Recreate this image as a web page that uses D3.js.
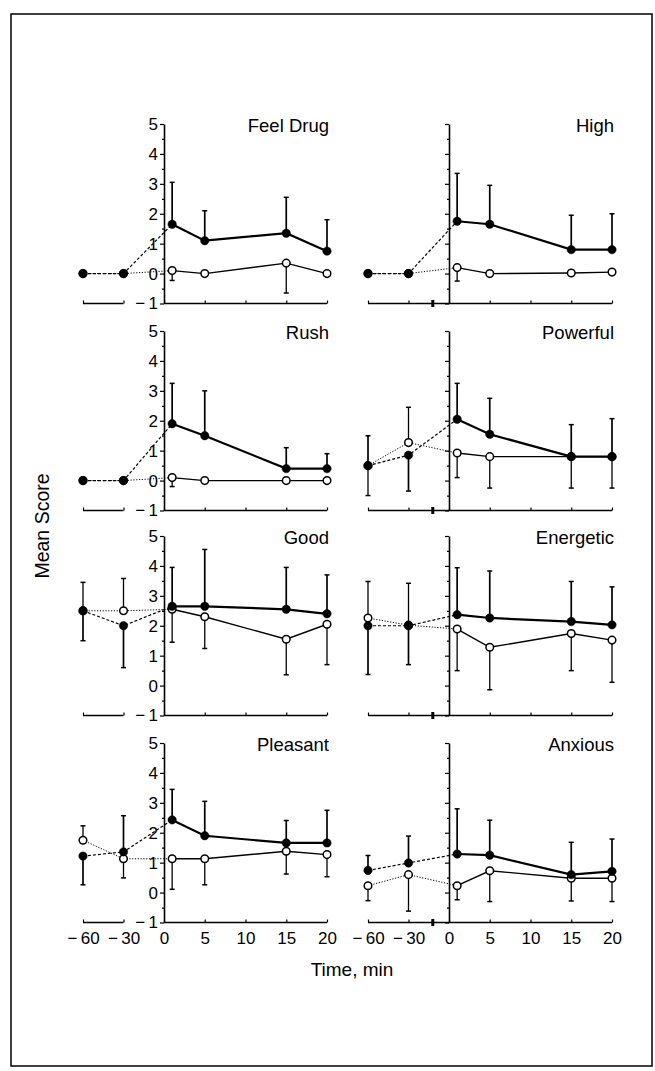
<!DOCTYPE html>
<html>
<head>
<meta charset="utf-8">
<script src="https://cdn.jsdelivr.net/npm/d3@7"></script>
<style>
  body { margin: 0; background: #fff; }
  svg { font-family: "Liberation Sans", Arial, sans-serif; }
  .domain { stroke: #000; stroke-width: 1.6; }
  .tick line { stroke: #000; stroke-width: 1.2; }
</style>
</head>
<body>
<div id="chart"></div>
<script>
// sampling times (min), first post-drug sample is ~1 min
const times = [-60, -30, 1, 5, 15, 20];
const xTicks = [-60, -30, 0, 5, 10, 15, 20];
const yTicks = [-1, 0, 1, 2, 3, 4, 5];
const yMinorTicks = [-0.5, 0.5, 1.5, 2.5, 3.5, 4.5];

const panelNames = ["Feel Drug", "High", "Rush", "Powerful", "Good", "Energetic", "Pleasant", "Anxious"];

// filled circles
const drugMeans = [
    [0, 0, 1.65, 1.1, 1.35, 0.75],
    [0, 0, 1.75, 1.65, 0.8, 0.8],
    [0, 0, 1.9, 1.5, 0.4, 0.4],
    [0.5, 0.85, 2.05, 1.55, 0.8, 0.8],
    [2.5, 2.0, 2.65, 2.65, 2.55, 2.4],
    [2.0, 2.0, 2.37, 2.26, 2.14, 2.03],
    [1.22, 1.36, 2.43, 1.9, 1.66, 1.66],
    [0.74, 0.99, 1.29, 1.25, 0.6, 0.71]
];
// SD bars, + drawn up, - drawn down
const drugErr = [
    [0, 0, 1.4, 1.0, 1.2, 1.05],
    [0, 0, 1.6, 1.3, 1.15, 1.2],
    [0, 0, 1.35, 1.5, 0.7, 0.5],
    [1.0, -1.2, 1.2, 1.2, 1.07, 1.27],
    [-1.0, -1.4, 1.3, 1.9, 1.4, 1.3],
    [-1.63, -1.3, 1.57, 1.57, 1.34, 1.27],
    [-0.96, 1.21, 1.02, 1.15, 0.75, 1.09],
    [0.5, 0.9, 1.51, 1.17, 1.08, 1.08]
];
// open circles
const placeboMeans = [
    [0, 0, 0.1, 0, 0.35, 0],
    [0, 0, 0.2, 0, 0.02, 0.05],
    [0, 0, 0.1, 0, 0, 0],
    [0.5, 1.27, 0.92, 0.8, 0.8, 0.8],
    [2.5, 2.5, 2.55, 2.3, 1.55, 2.05],
    [2.26, 2.02, 1.89, 1.28, 1.74, 1.52],
    [1.75, 1.13, 1.13, 1.13, 1.38, 1.27],
    [0.23, 0.6, 0.23, 0.73, 0.48, 0.48]
];
const placeboErr = [
    [0, 0, -0.33, 0, -1.0, 0],
    [0, 0, -0.45, 0, 0, 0],
    [0, 0, -0.3, 0, 0, 0],
    [-1.0, 1.18, -0.82, -1.05, -1.05, -1.05],
    [0.95, 1.08, -1.1, -1.06, -1.19, -1.35],
    [1.22, 1.4, -1.39, -1.42, -1.24, -1.41],
    [0.48, -0.64, -1.02, -0.87, -0.76, -0.74],
    [-0.5, -1.22, -0.47, -1.03, -0.76, -0.78]
];

const width = 655;
const height = 1071;
const colX0 = [164, 449];      // x of time 0 in each column
const rowTop = [124, 331, 536, 743];
const panelH = 179.5;

const svg = d3.select("#chart")
    .append("svg")
    .attr("width", width)
    .attr("height", height);

// frame
svg.append("rect")
    .attr("x", 11).attr("y", 14)
    .attr("width", 641).attr("height", 1052)
    .attr("fill", "none")
    .attr("stroke", "#000")
    .attr("stroke-width", 1.5);

panelNames.forEach((name, i) => {
    const col = i % 2;
    const row = Math.floor(i / 2);
    const x0 = colX0[col];

    const x = d3.scaleLinear()
        .domain([-60, -30, 0, 20])
        .range([x0 - 81, x0 - 40.5, x0, x0 + 163]);
    const y = d3.scaleLinear()
        .domain([-1, 5])
        .range([rowTop[row] + panelH, rowTop[row]]);

    const g = svg.append("g");

    // baseline at -1
    const yb = y(-1);
    if (col === 0) {
        g.append("line").attr("x1", x(-60)).attr("x2", x(-30))
            .attr("y1", yb).attr("y2", yb).attr("stroke", "#000").attr("stroke-width", 1.6);
        g.append("line").attr("x1", x(0)).attr("x2", x(20))
            .attr("y1", yb).attr("y2", yb).attr("stroke", "#000").attr("stroke-width", 1.6);
    } else {
        g.append("line").attr("x1", x(-60)).attr("x2", x(20))
            .attr("y1", yb).attr("y2", yb).attr("stroke", "#000").attr("stroke-width", 1.6);
        g.append("rect").attr("x", x(-12) - 1.5).attr("y", yb - 3.5)
            .attr("width", 3).attr("height", 7).attr("fill", "#000");
    }

    const xAxis = g.append("g")
        .attr("transform", `translate(0,${yb})`)
        .call(d3.axisBottom(x).tickValues(xTicks).tickSize(-3).tickSizeOuter(0).tickPadding(9)
            .tickFormat(d => d < 0 ? "\u2212\u2009" + Math.abs(d) : d));
    xAxis.select(".domain").remove();
    xAxis.selectAll("text").style("font-size", "17px").attr("fill", "#000");
    if (row < 3) xAxis.selectAll("text").remove();

    // y axis
    const yAxis = d3.axisLeft(y).tickValues(yTicks).tickSize(4).tickSizeOuter(0).tickPadding(2)
        .tickFormat(d => d < 0 ? "\u2212\u20091" : d);
    const ya = g.append("g")
        .attr("transform", `translate(${x0},0)`)
        .call(yAxis);
    ya.selectAll("text").style("font-size", "17px").attr("fill", "#000");
    if (col === 1) ya.selectAll("text").remove();
    g.append("g")
        .attr("transform", `translate(${x0},0)`)
        .call(d3.axisLeft(y).tickValues(yMinorTicks).tickSize(2).tickFormat(""))
        .select(".domain").remove();

    // title
    g.append("text")
        .attr("x", x(20) + 2)
        .attr("y", y(5) + 8)
        .attr("text-anchor", "end")
        .style("font-size", "18.5px")
        .text(name);

    const series = [
        { means: placeboMeans[i], err: placeboErr[i], filled: false },
        { means: drugMeans[i], err: drugErr[i], filled: true }
    ];

    // error bars
    series.forEach(s => {
        const pts = times.map((t, k) => ({ t, v: s.means[k], e: s.err[k] })).filter(d => d.e !== 0);
        const sw = s.filled ? 1.7 : 1.3;
        g.selectAll(null).data(pts).enter().append("line")
            .attr("x1", d => x(d.t)).attr("x2", d => x(d.t))
            .attr("y1", d => y(d.v)).attr("y2", d => y(d.v + d.e))
            .attr("stroke", "#000").attr("stroke-width", sw);
        g.selectAll(null).data(pts).enter().append("line")
            .attr("x1", d => x(d.t) - 2.5).attr("x2", d => x(d.t) + 2.5)
            .attr("y1", d => y(d.v + d.e)).attr("y2", d => y(d.v + d.e))
            .attr("stroke", "#000").attr("stroke-width", 1.5);
    });

    // lines: dotted before drug, solid after
    const line = d3.line().x(d => x(d.t)).y(d => y(d.v));
    series.forEach(s => {
        const pts = times.map((t, k) => ({ t, v: s.means[k] }));
        g.append("path")
            .attr("d", line(pts.slice(0, 3)))
            .attr("fill", "none")
            .attr("stroke", "#000")
            .attr("stroke-width", s.filled ? 1.2 : 1)
            .attr("stroke-dasharray", s.filled ? "3,2" : "1.2,1.6");
        g.append("path")
            .attr("d", line(pts.slice(2)))
            .attr("fill", "none")
            .attr("stroke", "#000")
            .attr("stroke-width", s.filled ? 2.2 : 1.4);
    });

    // markers
    series.forEach(s => {
        const pts = times.map((t, k) => ({ t, v: s.means[k] }));
        g.selectAll(null).data(pts).enter().append("circle")
            .attr("cx", d => x(d.t))
            .attr("cy", d => y(d.v))
            .attr("r", s.filled ? 4.2 : 3.8)
            .attr("fill", s.filled ? "#000" : "#fff")
            .attr("stroke", "#000")
            .attr("stroke-width", s.filled ? 0.5 : 1.5);
    });
});

svg.append("text")
    .attr("transform", "translate(49,526) rotate(-90)")
    .attr("text-anchor", "middle")
    .style("font-size", "19.5px")
    .text("Mean Score");

svg.append("text")
    .attr("x", 352)
    .attr("y", 976)
    .attr("text-anchor", "middle")
    .style("font-size", "19px")
    .text("Time, min");
</script>
</body>
</html>
